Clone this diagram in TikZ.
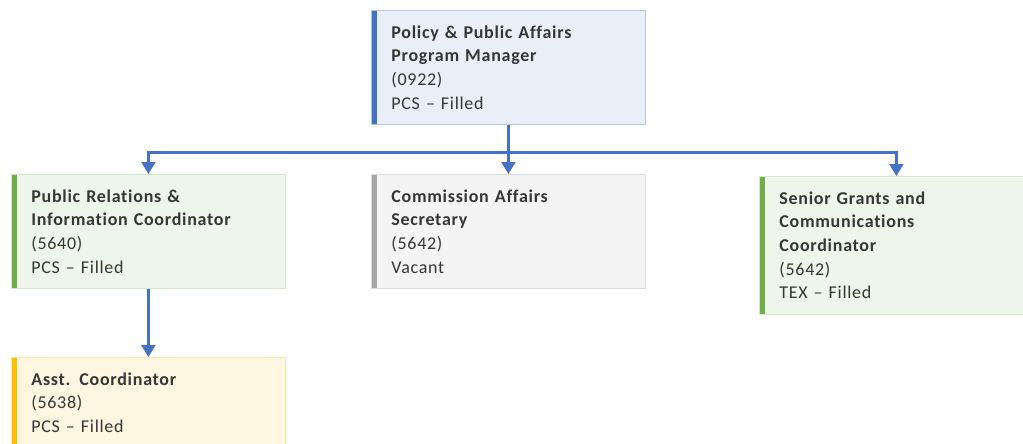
\documentclass[tikz,border=0pt]{standalone}
\usepackage{fontspec}
\setmainfont{Carlito}[LetterSpace=4, Ligatures={NoCommon}]
\usetikzlibrary{arrows.meta}

\definecolor{linkblue}{HTML}{4472C4}
\definecolor{inkgrey}{HTML}{363636}
\definecolor{barblue}{HTML}{4472C4}
\definecolor{bargreen}{HTML}{70AD47}
\definecolor{bargrey}{HTML}{A5A5A5}
\definecolor{bargold}{HTML}{FFC000}
\definecolor{fillblue}{HTML}{E9EEF8}
\definecolor{fillgreen}{HTML}{EEF5EA}
\definecolor{fillgrey}{HTML}{F4F4F4}
\definecolor{fillgold}{HTML}{FFF6E1}
\definecolor{edgeblue}{HTML}{B4C7E7}
\definecolor{edgegreen}{HTML}{D5E8CB}
\definecolor{edgegrey}{HTML}{DCDCDC}
\definecolor{edgegold}{HTML}{FFE9A8}

\tikzset{
  card/.style={rectangle, anchor=north west, text width=234pt, align=left,
    inner xsep=20pt, inner ysep=15pt, line width=0.8pt, text=inkgrey,
    font=\fontsize{18}{23.7}\selectfont},
  bar/.style={path picture={\fill[#1] (path picture bounding box.north west)
    rectangle ([xshift=6pt]path picture bounding box.south west);}},
  link/.style={linkblue, line width=2.4pt,
    -{Triangle[width=14pt,length=12pt]}}
}

\begin{document}
\begin{tikzpicture}[x=1pt,y=-1pt]
\useasboundingbox (0,0) rectangle (1023,444);
\clip (0,0) rectangle (1023,444);
% top
\node[card, fill=fillblue, draw=edgeblue, bar=barblue] (pm) at (371,10)
  {\textbf{Policy \& Public Affairs\\Program Manager}\\(0922)\\PCS -- Filled};
% second row
\node[card, fill=fillgreen, draw=edgegreen, bar=bargreen] (pr) at (11,174)
  {\textbf{Public Relations \&\\Information Coordinator}\\(5640)\\PCS -- Filled};
\node[card, fill=fillgrey, draw=edgegrey, bar=bargrey] (ca) at (371,174)
  {\textbf{Commission Affairs\\Secretary}\\(5642)\\Vacant};
\node[card, fill=fillgreen, draw=edgegreen, bar=bargreen] (sg) at (759,176)
  {\textbf{Senior Grants and\\Communications\\Coordinator}\\(5642)\\TEX -- Filled};
% third row
\node[card, fill=fillgold, draw=edgegold, bar=bargold] (ac) at (11,357)
  {\textbf{Asst. Coordinator}\\(5638)\\PCS -- Filled};
% links
\draw[linkblue, line width=2.4pt] (pm.south) -- ++(0,28) coordinate (bus);
\draw[link] (bus) -| (pr.north);
\draw[link] (bus) -- (ca.north);
\draw[link] (bus) -| (sg.north);
\draw[link] (pr.south) -- (ac.north);
\end{tikzpicture}
\end{document}
